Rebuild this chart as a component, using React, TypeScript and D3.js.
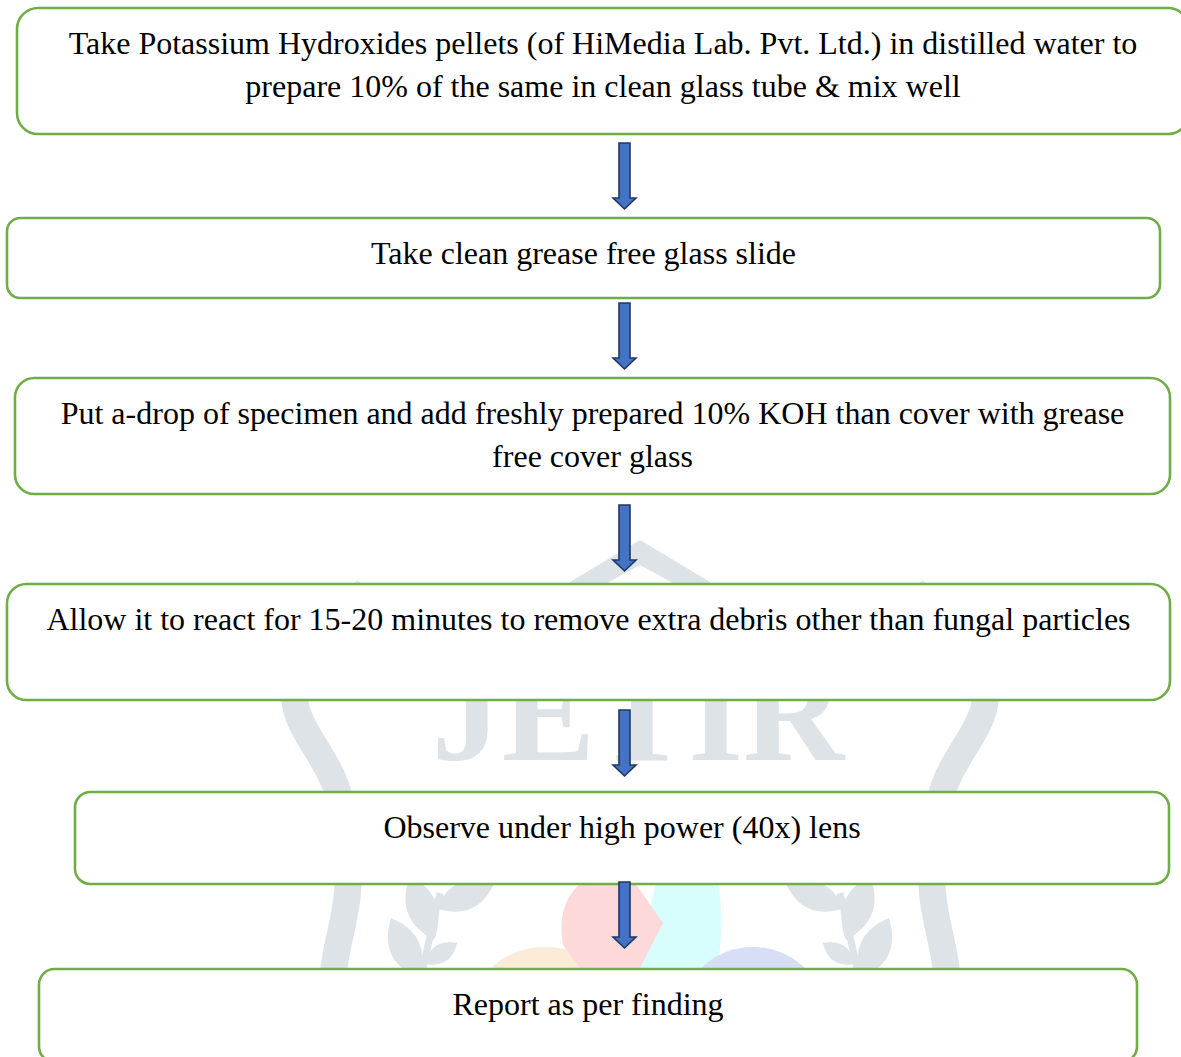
import React, { useEffect, useRef } from "react";
import * as d3 from "d3";

const W = 1181;
const H = 1057;

// Flowchart steps (text lines per box)
const steps: string[][] = [
  [
    "Take Potassium Hydroxides pellets (of HiMedia Lab. Pvt. Ltd.) in distilled water to",
    "prepare 10% of the same in clean glass tube & mix well",
  ],
  ["Take clean grease free glass slide"],
  [
    "Put a-drop of specimen and add freshly prepared 10% KOH than cover with grease",
    "free cover glass",
  ],
  ["Allow it to react for 15-20 minutes to remove extra debris other than fungal particles"],
  ["Observe under high power (40x) lens"],
  ["Report as per finding"],
];

// box layout (left, right, top, bottom) in page pixels
const boxLeft = [17, 7, 15, 7, 75, 39];
const boxRight = [1189, 1160, 1170, 1170, 1169, 1137];
const boxTop = [8, 218, 378, 584, 792, 969];
const boxBottom = [134, 298, 494, 700, 884, 1062];

// arrow tops between boxes
const arrowTops = [143, 303, 505, 710, 882];

// faint background emblem
const rimLeft: [number, number][] = [
  [367, 590], [318, 645], [295, 700], [337, 790], [348, 885], [334, 968], [328, 1060],
];
const rimRight: [number, number][] = rimLeft.map(([x, y]) => [1280 - x, y]);
const leavesLeft: [number, number, number, number, number][] = [
  // base x, base y, tip x, tip y, width
  [436, 908, 494, 884, 28],
  [434, 940, 410, 876, 30],
  [419, 978, 391, 918, 30],
  [425, 964, 457, 943, 18],
];

const leafPath = (bx: number, by: number, tx: number, ty: number, w: number) => {
  const mx = (bx + tx) / 2;
  const my = (by + ty) / 2;
  const len = Math.hypot(tx - bx, ty - by);
  const nx = (-(ty - by) / len) * w;
  const ny = ((tx - bx) / len) * w;
  return `M${bx},${by}Q${mx + nx},${my + ny} ${tx},${ty}Q${mx - nx},${my - ny} ${bx},${by}Z`;
};

const App = () => {
  const svgRef = useRef<SVGSVGElement>(null);

  useEffect(() => {
    const svg = d3.select(svgRef.current);
    svg.selectAll("*").remove();

    const gray = "#dde3e7";
    const wm = svg.append("g");

    // roof chevron
    wm.append("path")
      .attr("d", "M540,600L640,540L740,600L704,600L640,565L576,600Z")
      .attr("fill", gray);

    const rim = d3.line().curve(d3.curveCatmullRom);
    [rimLeft, rimRight].forEach((pts) => {
      wm.append("path")
        .attr("d", rim(pts))
        .attr("fill", "none")
        .attr("stroke", gray)
        .attr("stroke-width", 27);
    });

    wm.append("text")
      .attr("x", 638)
      .attr("y", 760)
      .attr("text-anchor", "middle")
      .attr("font-family", "'Liberation Serif', 'Times New Roman', serif")
      .attr("font-weight", "bold")
      .attr("font-size", 140)
      .attr("fill", gray)
      .text("JETIR");

    // laurel branches
    [1, -1].forEach((side) => {
      const fx = (x: number) => (side === 1 ? x : 1280 - x);
      wm.append("path")
        .attr("d", `M${fx(421)},976L${fx(440)},893`)
        .attr("stroke", gray)
        .attr("stroke-width", 7);
      leavesLeft.forEach(([bx, by, tx, ty, w]) => {
        wm.append("path")
          .attr("d", leafPath(fx(bx), by, fx(tx), ty, side * w))
          .attr("fill", gray);
      });
    });

    // coloured petals
    wm.append("ellipse")
      .attr("cx", 545).attr("cy", 1015).attr("rx", 75).attr("ry", 68)
      .attr("fill", "#fdebd9");
    wm.append("path")
      .attr("d", "M640,968C648,930 650,890 662,872L716,872C723,900 723,940 717,968Z")
      .attr("fill", "#d7fdfd");
    wm.append("ellipse")
      .attr("cx", 753).attr("cy", 1015).attr("rx", 72).attr("ry", 68)
      .attr("fill", "#d8def6");
    wm.append("path")
      .attr("d", "M580,968L563,945C558,915 565,893 588,878L633,880L663,923L640,968Z")
      .attr("fill", "#fdd9da");

    // boxes
    const g = svg.append("g");
    steps.forEach((lines, i) => {
      const x0 = boxLeft[i];
      const x1 = boxRight[i];
      const y0 = boxTop[i];
      const y1 = boxBottom[i];
      const r = (y1 - y0) * 0.167;
      g.append("rect")
        .attr("x", x0)
        .attr("y", y0)
        .attr("width", x1 - x0)
        .attr("height", y1 - y0)
        .attr("rx", r)
        .attr("ry", r)
        .attr("fill", "#ffffff")
        .attr("stroke", "#70ad47")
        .attr("stroke-width", 2.6);
      lines.forEach((line, j) => {
        g.append("text")
          .attr("x", (x0 + x1) / 2)
          .attr("y", y0 + 46 + j * 42.5)
          .attr("text-anchor", "middle")
          .attr("font-family", "'Liberation Serif', 'Times New Roman', serif")
          .attr("font-size", 32)
          .attr("fill", "#000000")
          .text(line);
      });
    });

    // arrows
    const cx = 624.5;
    arrowTops.forEach((top) => {
      const len = 66;
      const hb = top + 55;
      const p = d3.path();
      p.moveTo(cx - 5.5, top);
      p.lineTo(cx + 5.5, top);
      p.lineTo(cx + 5.5, hb);
      p.lineTo(cx + 11.5, hb);
      p.lineTo(cx, top + len);
      p.lineTo(cx - 11.5, hb);
      p.lineTo(cx - 5.5, hb);
      p.closePath();
      svg.append("path")
        .attr("d", p.toString())
        .attr("fill", "#4472c4")
        .attr("stroke", "#1f3864")
        .attr("stroke-width", 1.6)
        .attr("stroke-linejoin", "miter");
    });
  }, []);

  return (
    <svg
      ref={svgRef}
      width={W}
      height={H}
      style={{ position: "absolute", left: 0, top: 0, background: "#ffffff" }}
    ></svg>
  );
};

export default App;
